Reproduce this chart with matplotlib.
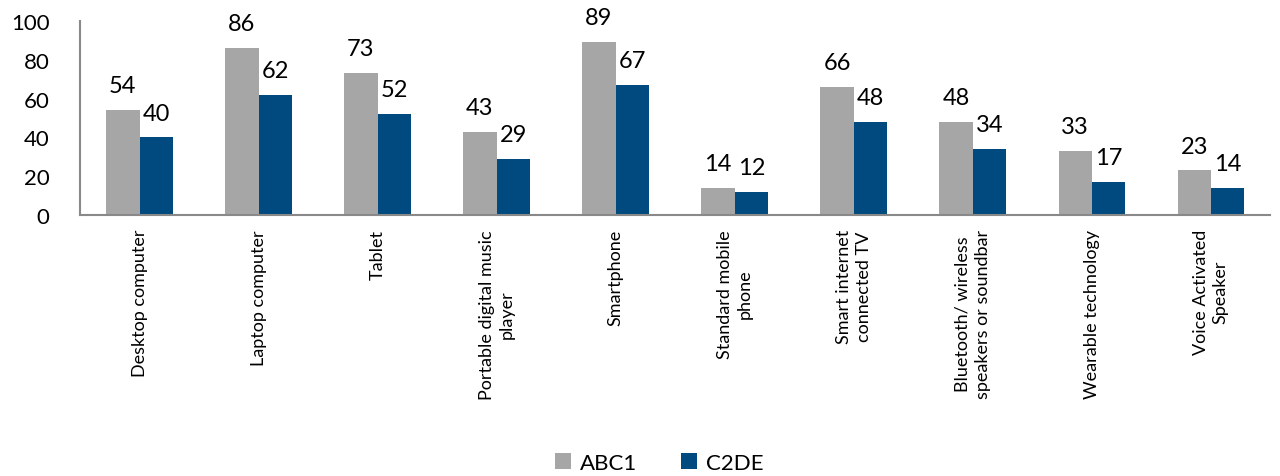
import numpy as np
import matplotlib.pyplot as plt

plt.rcParams['font.family'] = ['Lato', 'DejaVu Sans']

categories = ["Desktop computer", "Laptop computer", "Tablet",
              "Portable digital music\nplayer", "Smartphone",
              "Standard mobile\nphone", "Smart internet\nconnected TV",
              "Bluetooth/ wireless\nspeakers or soundbar",
              "Wearable technology", "Voice Activated\nSpeaker"]
abc1 = [54, 86, 73, 43, 89, 14, 66, 48, 33, 23]
c2de = [40, 62, 52, 29, 67, 12, 48, 34, 17, 14]

fig = plt.figure(figsize=(12.8, 4.77), dpi=100)
ax = fig.add_axes([0.0625, 0.547, 0.93, 0.407])

x = np.arange(len(categories))
w = 0.28
b1 = ax.bar(x - w / 2, abc1, w, color="#A6A6A6", label="ABC1")
b2 = ax.bar(x + w / 2, c2de, w, color="#004A7F", label="C2DE")

for bars in (b1, b2):
    for r in bars:
        ax.annotate(f"{r.get_height():g}", (r.get_x() + r.get_width() / 2, r.get_height()),
                    xytext=(0, 10), textcoords="offset points",
                    ha="center", va="bottom", fontsize=17)

ax.set_xlim(-0.5, len(categories) - 0.5)
ax.set_ylim(0, 100)
ax.set_yticks(range(0, 101, 20))
ax.set_xticks(x)
ax.set_xticklabels(categories, rotation=90, fontsize=13, ha="center", va="top",
                   multialignment="center", linespacing=1.3)
ax.tick_params(axis="y", labelsize=16, length=0, pad=22)
ax.tick_params(axis="x", length=0, pad=10)
for s in ("top", "right"):
    ax.spines[s].set_visible(False)
for s in ("left", "bottom"):
    ax.spines[s].set_color("#898989")
    ax.spines[s].set_linewidth(1.5)

fig.legend(loc="lower center", bbox_to_anchor=(0.515, -0.035), ncol=2, frameon=False,
           fontsize=16, handlelength=0.7, handleheight=0.7, columnspacing=2.0,
           handletextpad=0.4)

fig.savefig("out.png", dpi=100)
